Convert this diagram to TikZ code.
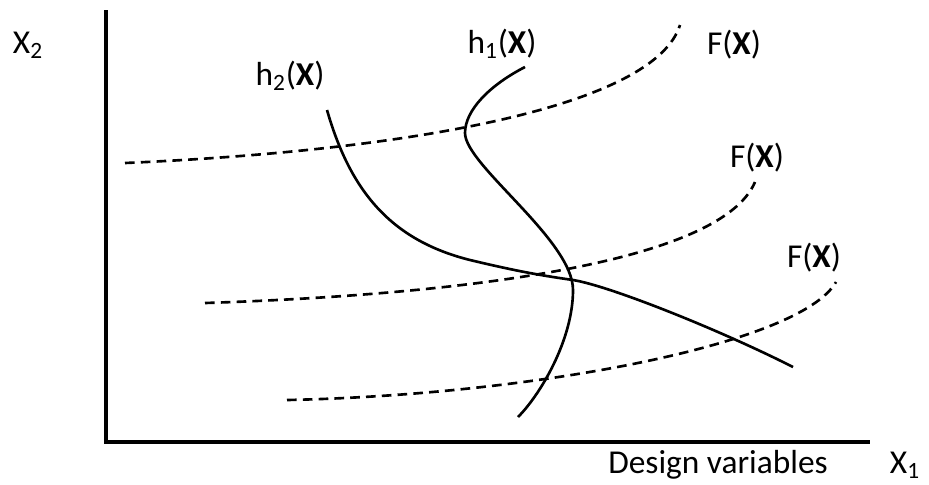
\documentclass[tikz,border=0pt]{standalone}
\usepackage{fontspec}
\setmainfont{Carlito}
\usetikzlibrary{positioning}

\begin{document}
\begin{tikzpicture}[
  x=0.02cm,y=-0.02cm,
  lbl/.style={font=\fontsize{19}{22}\selectfont,inner sep=0pt},
  axisline/.style={line width=2.4pt,line join=miter},
  hcurve/.style={line width=1.5pt},
  fcurve/.style={line width=1.5pt,dash pattern=on 5.5pt off 3.5pt}
]
\useasboundingbox (0,0) rectangle (929,484);
% axes
\coordinate (ytop) at (106,10);
\coordinate (orig) at (106,442);
\coordinate (xend) at (870,442);
\draw[axisline] (ytop) -- (orig) -- (xend);
\node[lbl] (x2) at (28,45) {X\textsubscript{2}};
\node[lbl] (x1) at (905,465) {X\textsubscript{1}};
\node[lbl] (dv) at (718,465) {Design variables};
% objective contours
\coordinate (f1a) at (125,163);
\coordinate (f1b) at (680,25);
\coordinate (f2a) at (205,303);
\coordinate (f2b) at (755,182);
\coordinate (f3a) at (287,400);
\coordinate (f3b) at (836,282);
\draw[fcurve] (f1a) .. controls (420,150) and (655,105) .. (f1b);
\draw[fcurve] (f2a) .. controls (450,295) and (720,265) .. (f2b);
\draw[fcurve] (f3a) .. controls (530,395) and (800,345) .. (f3b);
\node[lbl] (f1) at (734,45) {F(\textbf{X})};
\node[lbl] (f2) at (757,158) {F(\textbf{X})};
\node[lbl] (f3) at (814,258) {F(\textbf{X})};
% constraints
\coordinate (h1a) at (525,67);
\coordinate (h1b) at (518,417);
\coordinate (h2a) at (327,110);
\coordinate (h2b) at (793,367);
\draw[hcurve] (h1a) .. controls (490,85) and (465,110) .. (465,133)
  .. controls (465,165) and (573,240) .. (573,290)
  .. controls (573,340) and (540,395) .. (h1b);
\draw[hcurve] (h2a) .. controls (350,190) and (390,240) .. (470,260)
  .. controls (520,272) and (545,276) .. (573,280)
  .. controls (610,286) and (720,330) .. (h2b);
\node[lbl] (h1) at (502,44) {h\textsubscript{1}(\textbf{X})};
\node[lbl] (h2) at (290,76) {h\textsubscript{2}(\textbf{X})};
\end{tikzpicture}
\end{document}
